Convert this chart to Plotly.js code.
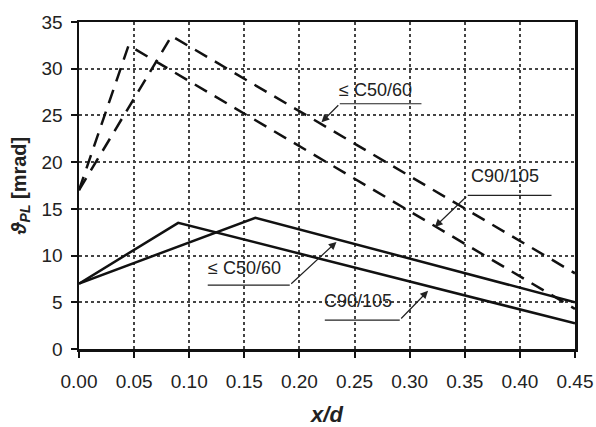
<!DOCTYPE html>
<html>
<head>
<meta charset="utf-8">
<script src="https://cdn.plot.ly/plotly-3.0.1.min.js"></script>
<style>html,body{margin:0;padding:0;background:#fff;}#chart{width:596px;height:427px;}</style>
</head>
<body>
<div id="chart"></div>
<script>
// Data
var xSolidC50 = [0, 0.16, 0.45];
var ySolidC50 = [7, 14.05, 5.0];
var xSolidC90 = [0, 0.09, 0.45];
var ySolidC90 = [7, 13.5, 2.75];
var xDashC50 = [0, 0.084, 0.45];
var yDashC50 = [17, 33.5, 8.1];
var xDashC90 = [0, 0.045, 0.45];
var yDashC90 = [17, 32.5, 4.3];
var xTicks = [0, 0.05, 0.10, 0.15, 0.20, 0.25, 0.30, 0.35, 0.40, 0.45];
var xTickLabels = ["0.00","0.05","0.10","0.15","0.20","0.25","0.30","0.35","0.40","0.45"];
var yTicks = [0, 5, 10, 15, 20, 25, 30, 35];
var labelC50 = "\u2264 C50/60";
var labelC90 = "C90/105";

var FONT = "Liberation Sans, Arial, sans-serif";
var solid = {color: "#111", width: 2.5};
var dashed = {color: "#111", width: 2.5, dash: "14px,9px"};

var traces = [
  {x: xSolidC50, y: ySolidC50, mode: "lines", line: solid, hoverinfo: "skip"},
  {x: xSolidC90, y: ySolidC90, mode: "lines", line: solid, hoverinfo: "skip"},
  {x: xDashC50, y: yDashC50, mode: "lines", line: dashed, hoverinfo: "skip"},
  {x: xDashC90, y: yDashC90, mode: "lines", line: dashed, hoverinfo: "skip"}
];

// label callouts: text position, underline, arrow tip
var callouts = [
  {text: labelC50, tx: 0.2692, ty: 26.4, u0: 0.2366, u1: 0.3107, uy: 26.25, ax: 0.2366, tipx: 0.220, tipy: 24.28},
  {text: labelC90, tx: 0.3863, ty: 17.2, u0: 0.3527, u1: 0.4287, uy: 16.45, ax: 0.3527, tipx: 0.3228, tipy: 13.07},
  {text: labelC50, tx: 0.1504, ty: 7.37, u0: 0.1168, u1: 0.1912, uy: 6.84, ax: 0.1912, tipx: 0.2336, tipy: 11.46},
  {text: labelC90, tx: 0.2529, ty: 3.85, u0: 0.223, u1: 0.291, uy: 3.1, ax: 0.291, tipx: 0.3167, tipy: 6.23}
];

var annotations = [];
var shapes = [];
callouts.forEach(function(c){
  annotations.push({x: c.tx, y: c.ty, xref: "x", yref: "y", text: c.text, showarrow: false,
    xanchor: "center", yanchor: "bottom", font: {family: FONT, size: 18, color: "#222"}});
  annotations.push({x: c.tipx, y: c.tipy, xref: "x", yref: "y", ax: c.ax, ay: c.uy, axref: "x", ayref: "y",
    text: "", showarrow: true, arrowhead: 2, arrowsize: 1.3, arrowwidth: 1.2, arrowcolor: "#222"});
  shapes.push({type: "line", xref: "x", yref: "y", x0: c.u0, x1: c.u1, y0: c.uy, y1: c.uy,
    line: {color: "#222", width: 1.2}});
});

var layout = {
  width: 596, height: 427,
  margin: {l: 79, r: 21, t: 22, b: 78, pad: 0},
  paper_bgcolor: "#fff", plot_bgcolor: "#fff",
  showlegend: false,
  font: {family: FONT, size: 19, color: "#222"},
  xaxis: {
    range: [0, 0.45], tickvals: xTicks, ticktext: xTickLabels,
    showgrid: true, gridcolor: "#444", gridwidth: 2, griddash: "dot",
    showline: true, linecolor: "#111", linewidth: 2.5, mirror: true,
    ticks: "outside", ticklen: 6, tickwidth: 2, tickcolor: "#111",
    zeroline: false, ticklabelstandoff: 8,
    tickfont: {family: FONT, size: 19, color: "#222"},
    title: {text: "<b><i>x/d</i></b>", font: {family: FONT, size: 22, color: "#222"}, standoff: 20}
  },
  yaxis: {
    range: [0, 35], tickvals: yTicks,
    showgrid: true, gridcolor: "#444", gridwidth: 2, griddash: "dot",
    showline: true, linecolor: "#111", linewidth: 2.5, mirror: true,
    ticks: "outside", ticklen: 6, tickwidth: 2, tickcolor: "#111",
    zeroline: false, ticklabelstandoff: 4,
    tickfont: {family: FONT, size: 19, color: "#222"},
    title: {text: "<b><i>\u03D1</i><sub><i>PL</i></sub> [mrad]</b>", font: {family: FONT, size: 20, color: "#222"}, standoff: 10}
  },
  annotations: annotations,
  shapes: shapes
};

Plotly.newPlot("chart", traces, layout, {staticPlot: true, displayModeBar: false});
</script>
</body>
</html>
